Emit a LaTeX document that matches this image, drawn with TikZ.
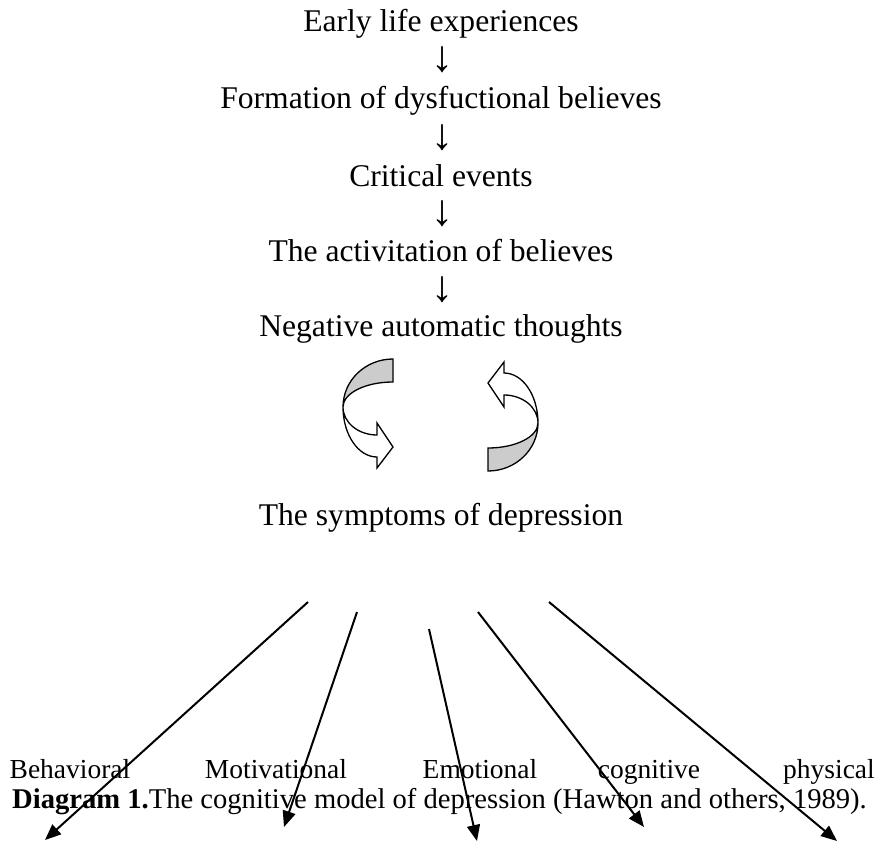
\documentclass[tikz,border=0pt]{standalone}
\usepackage{fontspec}
\setmainfont{Liberation Serif}
\usetikzlibrary{arrows.meta}

\begin{document}
\begin{tikzpicture}[x=1pt,y=-1pt,
  txt/.style={font=\fontsize{31.6pt}{38pt}\selectfont,inner sep=0pt,anchor=base},
  down/.style={font=\fontsize{44pt}{44pt}\selectfont,inner sep=0pt,anchor=base},
  lbl/.style={font=\fontsize{27.5pt}{33pt}\selectfont,inner sep=0pt,anchor=base},
  fan/.style={line width=2pt,-{Triangle[length=16pt,width=13pt]}},
  twist/.pic={
    \filldraw[line width=1.3pt,fill=gray!40] (50,-48)
      arc[start angle=270,end angle=180,x radius=50,y radius=48]
      arc[start angle=180,end angle=270,x radius=50,y radius=25] -- cycle;
    \filldraw[line width=1.3pt,fill=white] (0,0)
      arc[start angle=180,end angle=90,x radius=34,y radius=28]
      -- (34,16) -- (50,40) -- (34,61) -- (34,50)
      arc[start angle=90,end angle=180,x radius=34,y radius=50] -- cycle;
  }]
\useasboundingbox (0,0) rectangle (878,843);
\node[txt] (early) at (441,32) {Early life experiences};
\node[down] (down1) at (442,72) {↓};
\node[txt] (beliefs) at (441,108) {Formation of dysfuctional believes};
\node[down] (down2) at (442,149) {↓};
\node[txt] (critical) at (441,186) {Critical events};
\node[down] (down3) at (442,225) {↓};
\node[txt] (activation) at (441,261) {The activitation of believes};
\node[down] (down4) at (442,301) {↓};
\node[txt] (negative) at (441,336) {Negative automatic thoughts};
\pic at (343,407) {twist};
\pic[rotate=180] at (538,423) {twist};
\node[txt] (symptoms) at (441,525) {The symptoms of depression};
% the five kinds of symptoms
\node[lbl] (behavioral) at (70,778) {Behavioral};
\node[lbl] (motivational) at (276,778) {Motivational};
\node[lbl] (emotional) at (480,778) {Emotional};
\node[lbl] (cognitive) at (649,778) {cognitive};
\node[lbl] (physical) at (829,778) {physical};
\node[lbl,anchor=base west,font=\fontsize{28.6pt}{34pt}\selectfont] (caption) at (12,808)
  {\textbf{Diagram 1.}The cognitive model of depression (Hawton and others, 1989).};
\coordinate (from1) at (308,602);
\coordinate (from2) at (357,612);
\coordinate (from3) at (429,629);
\coordinate (from4) at (478,612);
\coordinate (from5) at (549,602);
\coordinate (to1) at (45,840);
\coordinate (to2) at (284,827);
\coordinate (to3) at (477,841);
\coordinate (to4) at (644,827);
\coordinate (to5) at (837,841);
\draw[fan] (from1) -- (to1);
\draw[fan] (from2) -- (to2);
\draw[fan] (from3) -- (to3);
\draw[fan] (from4) -- (to4);
\draw[fan] (from5) -- (to5);
\end{tikzpicture}
\end{document}
